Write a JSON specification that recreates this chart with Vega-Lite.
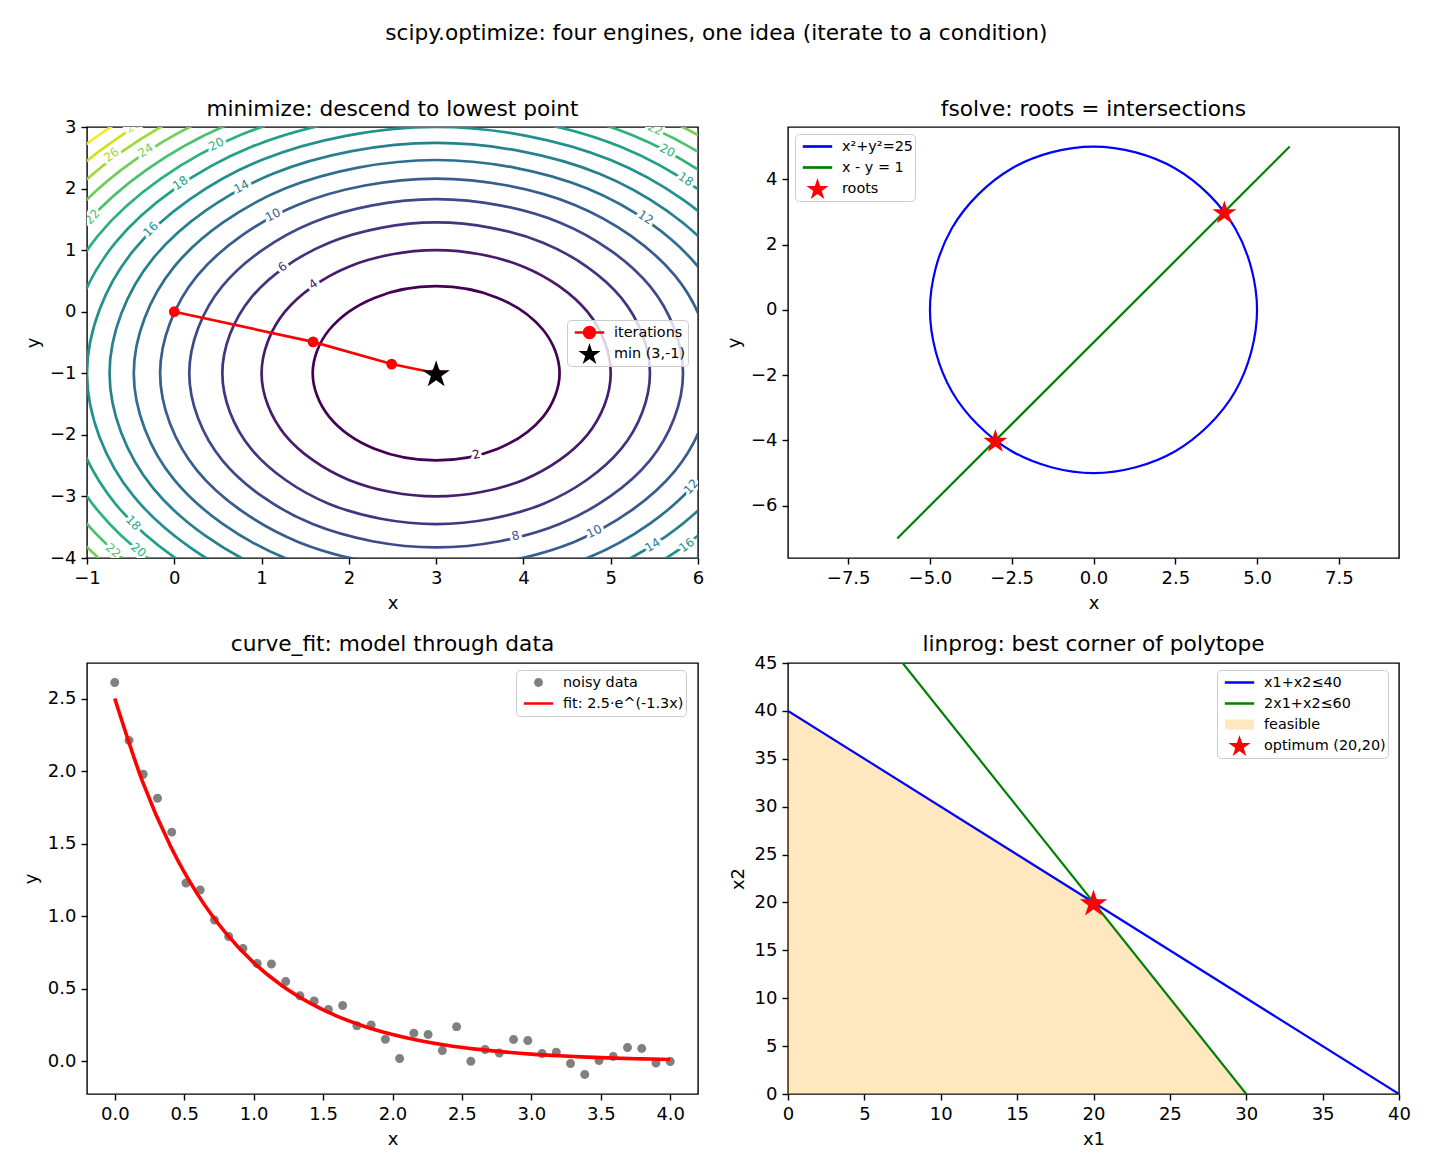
{
  "$schema": "https://vega.github.io/schema/vega-lite/v6.json",
  "title": {"text": "scipy.optimize: four engines, one idea (iterate to a condition)", "fontSize": 21.7, "offset": 53.5, "anchor": "middle", "frame": "bounds"},
  "padding": {"left": 21, "top": 23, "right": 10, "bottom": 10},
  "background": "white",
  "config": {
    "font": "DejaVu Sans",
    "view": {"stroke": "black", "strokeWidth": 1.4},
    "axis": {"domain": false, "grid": false, "tickColor": "black", "tickWidth": 1.4, "tickSize": 6, "labelFontSize": 18, "labelColor": "black", "labelPadding": 5, "titleFontSize": 18, "titleFontWeight": "normal", "titleColor": "black", "titlePadding": 7, "labelFlush": false, "labelOverlap": false, "labelBound": false},
    "title": {"fontSize": 21.7, "fontWeight": "normal", "color": "black", "frame": "group", "baseline": "alphabetic"},
    "legend": {"orient": "none", "labelFontSize": 14.4, "labelColor": "black", "symbolSize": 196, "symbolStrokeWidth": 2.7, "symbolOpacity": 1, "fillColor": "rgba(255,255,255,0.8)", "strokeColor": "#cccccc", "strokeWidth": 1, "cornerRadius": 4, "padding": 2, "clipHeight": 21, "rowPadding": 0, "labelOffset": 16, "symbolOffset": 12}
  },
  "datasets": {
    "contours": [
      {"lev":2,"k":0,"x":4.4142,"y":-1},{"lev":2,"k":1,"x":4.2247,"y":-0.2929},{"lev":2,"k":2,"x":3.7071,"y":0.2247},{"lev":2,"k":3,"x":3,"y":0.4142},{"lev":2,"k":4,"x":2.2929,"y":0.2247},{"lev":2,"k":5,"x":1.7753,"y":-0.2929},{"lev":2,"k":6,"x":1.5858,"y":-1},{"lev":2,"k":7,"x":1.7753,"y":-1.7071},{"lev":2,"k":8,"x":2.2929,"y":-2.2247},{"lev":2,"k":9,"x":3,"y":-2.4142},{"lev":2,"k":10,"x":3.7071,"y":-2.2247},{"lev":2,"k":11,"x":4.2247,"y":-1.7071},
      {"lev":4,"k":0,"x":5,"y":-1},{"lev":4,"k":1,"x":4.7321,"y":0},{"lev":4,"k":2,"x":4,"y":0.7321},{"lev":4,"k":3,"x":3,"y":1},{"lev":4,"k":4,"x":2,"y":0.7321},{"lev":4,"k":5,"x":1.2679,"y":0},{"lev":4,"k":6,"x":1,"y":-1},{"lev":4,"k":7,"x":1.2679,"y":-2},{"lev":4,"k":8,"x":2,"y":-2.7321},{"lev":4,"k":9,"x":3,"y":-3},{"lev":4,"k":10,"x":4,"y":-2.7321},{"lev":4,"k":11,"x":4.7321,"y":-2},
      {"lev":6,"k":0,"x":5.4495,"y":-1},{"lev":6,"k":1,"x":5.1213,"y":0.2247},{"lev":6,"k":2,"x":4.2247,"y":1.1213},{"lev":6,"k":3,"x":3,"y":1.4495},{"lev":6,"k":4,"x":1.7753,"y":1.1213},{"lev":6,"k":5,"x":0.8787,"y":0.2247},{"lev":6,"k":6,"x":0.5505,"y":-1},{"lev":6,"k":7,"x":0.8787,"y":-2.2247},{"lev":6,"k":8,"x":1.7753,"y":-3.1213},{"lev":6,"k":9,"x":3,"y":-3.4495},{"lev":6,"k":10,"x":4.2247,"y":-3.1213},{"lev":6,"k":11,"x":5.1213,"y":-2.2247},
      {"lev":8,"k":0,"x":5.8284,"y":-1},{"lev":8,"k":1,"x":5.4495,"y":0.4142},{"lev":8,"k":2,"x":4.4142,"y":1.4495},{"lev":8,"k":3,"x":3,"y":1.8284},{"lev":8,"k":4,"x":1.5858,"y":1.4495},{"lev":8,"k":5,"x":0.5505,"y":0.4142},{"lev":8,"k":6,"x":0.1716,"y":-1},{"lev":8,"k":7,"x":0.5505,"y":-2.4142},{"lev":8,"k":8,"x":1.5858,"y":-3.4495},{"lev":8,"k":9,"x":3,"y":-3.8284},{"lev":8,"k":10,"x":4.4142,"y":-3.4495},{"lev":8,"k":11,"x":5.4495,"y":-2.4142},
      {"lev":10,"k":0,"x":6.1623,"y":-1},{"lev":10,"k":1,"x":5.7386,"y":0.5811},{"lev":10,"k":2,"x":4.5811,"y":1.7386},{"lev":10,"k":3,"x":3,"y":2.1623},{"lev":10,"k":4,"x":1.4189,"y":1.7386},{"lev":10,"k":5,"x":0.2614,"y":0.5811},{"lev":10,"k":6,"x":-0.1623,"y":-1},{"lev":10,"k":7,"x":0.2614,"y":-2.5811},{"lev":10,"k":8,"x":1.4189,"y":-3.7386},{"lev":10,"k":9,"x":3,"y":-4.1623},{"lev":10,"k":10,"x":4.5811,"y":-3.7386},{"lev":10,"k":11,"x":5.7386,"y":-2.5811},
      {"lev":12,"k":0,"x":6.4641,"y":-1},{"lev":12,"k":1,"x":6,"y":0.7321},{"lev":12,"k":2,"x":4.7321,"y":2},{"lev":12,"k":3,"x":3,"y":2.4641},{"lev":12,"k":4,"x":1.2679,"y":2},{"lev":12,"k":5,"x":0,"y":0.7321},{"lev":12,"k":6,"x":-0.4641,"y":-1},{"lev":12,"k":7,"x":0,"y":-2.7321},{"lev":12,"k":8,"x":1.2679,"y":-4},{"lev":12,"k":9,"x":3,"y":-4.4641},{"lev":12,"k":10,"x":4.7321,"y":-4},{"lev":12,"k":11,"x":6,"y":-2.7321},
      {"lev":14,"k":0,"x":6.7417,"y":-1},{"lev":14,"k":1,"x":6.2404,"y":0.8708},{"lev":14,"k":2,"x":4.8708,"y":2.2404},{"lev":14,"k":3,"x":3,"y":2.7417},{"lev":14,"k":4,"x":1.1292,"y":2.2404},{"lev":14,"k":5,"x":-0.2404,"y":0.8708},{"lev":14,"k":6,"x":-0.7417,"y":-1},{"lev":14,"k":7,"x":-0.2404,"y":-2.8708},{"lev":14,"k":8,"x":1.1292,"y":-4.2404},{"lev":14,"k":9,"x":3,"y":-4.7417},{"lev":14,"k":10,"x":4.8708,"y":-4.2404},{"lev":14,"k":11,"x":6.2404,"y":-2.8708},
      {"lev":16,"k":0,"x":7,"y":-1},{"lev":16,"k":1,"x":6.4641,"y":1},{"lev":16,"k":2,"x":5,"y":2.4641},{"lev":16,"k":3,"x":3,"y":3},{"lev":16,"k":4,"x":1,"y":2.4641},{"lev":16,"k":5,"x":-0.4641,"y":1},{"lev":16,"k":6,"x":-1,"y":-1},{"lev":16,"k":7,"x":-0.4641,"y":-3},{"lev":16,"k":8,"x":1,"y":-4.4641},{"lev":16,"k":9,"x":3,"y":-5},{"lev":16,"k":10,"x":5,"y":-4.4641},{"lev":16,"k":11,"x":6.4641,"y":-3},
      {"lev":18,"k":0,"x":7.2426,"y":-1},{"lev":18,"k":1,"x":6.6742,"y":1.1213},{"lev":18,"k":2,"x":5.1213,"y":2.6742},{"lev":18,"k":3,"x":3,"y":3.2426},{"lev":18,"k":4,"x":0.8787,"y":2.6742},{"lev":18,"k":5,"x":-0.6742,"y":1.1213},{"lev":18,"k":6,"x":-1.2426,"y":-1},{"lev":18,"k":7,"x":-0.6742,"y":-3.1213},{"lev":18,"k":8,"x":0.8787,"y":-4.6742},{"lev":18,"k":9,"x":3,"y":-5.2426},{"lev":18,"k":10,"x":5.1213,"y":-4.6742},{"lev":18,"k":11,"x":6.6742,"y":-3.1213},
      {"lev":20,"k":0,"x":7.4721,"y":-1},{"lev":20,"k":1,"x":6.873,"y":1.2361},{"lev":20,"k":2,"x":5.2361,"y":2.873},{"lev":20,"k":3,"x":3,"y":3.4721},{"lev":20,"k":4,"x":0.7639,"y":2.873},{"lev":20,"k":5,"x":-0.873,"y":1.2361},{"lev":20,"k":6,"x":-1.4721,"y":-1},{"lev":20,"k":7,"x":-0.873,"y":-3.2361},{"lev":20,"k":8,"x":0.7639,"y":-4.873},{"lev":20,"k":9,"x":3,"y":-5.4721},{"lev":20,"k":10,"x":5.2361,"y":-4.873},{"lev":20,"k":11,"x":6.873,"y":-3.2361},
      {"lev":22,"k":0,"x":7.6904,"y":-1},{"lev":22,"k":1,"x":7.062,"y":1.3452},{"lev":22,"k":2,"x":5.3452,"y":3.062},{"lev":22,"k":3,"x":3,"y":3.6904},{"lev":22,"k":4,"x":0.6548,"y":3.062},{"lev":22,"k":5,"x":-1.062,"y":1.3452},{"lev":22,"k":6,"x":-1.6904,"y":-1},{"lev":22,"k":7,"x":-1.062,"y":-3.3452},{"lev":22,"k":8,"x":0.6548,"y":-5.062},{"lev":22,"k":9,"x":3,"y":-5.6904},{"lev":22,"k":10,"x":5.3452,"y":-5.062},{"lev":22,"k":11,"x":7.062,"y":-3.3452},
      {"lev":24,"k":0,"x":7.899,"y":-1},{"lev":24,"k":1,"x":7.2426,"y":1.4495},{"lev":24,"k":2,"x":5.4495,"y":3.2426},{"lev":24,"k":3,"x":3,"y":3.899},{"lev":24,"k":4,"x":0.5505,"y":3.2426},{"lev":24,"k":5,"x":-1.2426,"y":1.4495},{"lev":24,"k":6,"x":-1.899,"y":-1},{"lev":24,"k":7,"x":-1.2426,"y":-3.4495},{"lev":24,"k":8,"x":0.5505,"y":-5.2426},{"lev":24,"k":9,"x":3,"y":-5.899},{"lev":24,"k":10,"x":5.4495,"y":-5.2426},{"lev":24,"k":11,"x":7.2426,"y":-3.4495},
      {"lev":26,"k":0,"x":8.099,"y":-1},{"lev":26,"k":1,"x":7.4159,"y":1.5495},{"lev":26,"k":2,"x":5.5495,"y":3.4159},{"lev":26,"k":3,"x":3,"y":4.099},{"lev":26,"k":4,"x":0.4505,"y":3.4159},{"lev":26,"k":5,"x":-1.4159,"y":1.5495},{"lev":26,"k":6,"x":-2.099,"y":-1},{"lev":26,"k":7,"x":-1.4159,"y":-3.5495},{"lev":26,"k":8,"x":0.4505,"y":-5.4159},{"lev":26,"k":9,"x":3,"y":-6.099},{"lev":26,"k":10,"x":5.5495,"y":-5.4159},{"lev":26,"k":11,"x":7.4159,"y":-3.5495},
      {"lev":28,"k":0,"x":8.2915,"y":-1},{"lev":28,"k":1,"x":7.5826,"y":1.6458},{"lev":28,"k":2,"x":5.6458,"y":3.5826},{"lev":28,"k":3,"x":3,"y":4.2915},{"lev":28,"k":4,"x":0.3542,"y":3.5826},{"lev":28,"k":5,"x":-1.5826,"y":1.6458},{"lev":28,"k":6,"x":-2.2915,"y":-1},{"lev":28,"k":7,"x":-1.5826,"y":-3.6458},{"lev":28,"k":8,"x":0.3542,"y":-5.5826},{"lev":28,"k":9,"x":3,"y":-6.2915},{"lev":28,"k":10,"x":5.6458,"y":-5.5826},{"lev":28,"k":11,"x":7.5826,"y":-3.6458},
      {"lev":30,"k":0,"x":8.4772,"y":-1},{"lev":30,"k":1,"x":7.7434,"y":1.7386},{"lev":30,"k":2,"x":5.7386,"y":3.7434},{"lev":30,"k":3,"x":3,"y":4.4772},{"lev":30,"k":4,"x":0.2614,"y":3.7434},{"lev":30,"k":5,"x":-1.7434,"y":1.7386},{"lev":30,"k":6,"x":-2.4772,"y":-1},{"lev":30,"k":7,"x":-1.7434,"y":-3.7434},{"lev":30,"k":8,"x":0.2614,"y":-5.7434},{"lev":30,"k":9,"x":3,"y":-6.4772},{"lev":30,"k":10,"x":5.7386,"y":-5.7434},{"lev":30,"k":11,"x":7.7434,"y":-3.7434}
    ],
    "clabels": [
      {"lev":2,"x":3.46,"y":-2.32},{"lev":4,"x":1.59,"y":0.45},{"lev":6,"x":1.24,"y":0.73},{"lev":8,"x":3.91,"y":-3.64},
      {"lev":10,"x":1.13,"y":1.57},{"lev":10,"x":4.81,"y":-3.57},{"lev":12,"x":5.4,"y":1.53},{"lev":12,"x":5.92,"y":-2.84},
      {"lev":14,"x":0.77,"y":2.03},{"lev":14,"x":5.48,"y":-3.79},{"lev":16,"x":-0.27,"y":1.34},{"lev":16,"x":5.87,"y":-3.79},
      {"lev":18,"x":0.07,"y":2.09},{"lev":18,"x":5.86,"y":2.15},{"lev":18,"x":-0.47,"y":-3.43},
      {"lev":20,"x":0.48,"y":2.72},{"lev":20,"x":5.65,"y":2.62},{"lev":20,"x":-0.41,"y":-3.87},
      {"lev":22,"x":-0.94,"y":1.54},{"lev":22,"x":-0.7,"y":-3.88},{"lev":22,"x":5.51,"y":2.97},
      {"lev":24,"x":-0.33,"y":2.62},{"lev":26,"x":-0.72,"y":2.55},{"lev":28,"x":-0.47,"y":3.02}
    ],
    "iters": [{"step":0,"x":0,"y":0},{"step":1,"x":1.59,"y":-0.49},{"step":2,"x":2.49,"y":-0.85},{"step":3,"x":3,"y":-1}],
    "minpt": [{"x":3,"y":-1,"series":"min (3,-1)"}],
    "circle": [
      {"k":0,"x":5,"y":0},{"k":1,"x":4.3301,"y":2.5},{"k":2,"x":2.5,"y":4.3301},{"k":3,"x":0,"y":5},{"k":4,"x":-2.5,"y":4.3301},{"k":5,"x":-4.3301,"y":2.5},
      {"k":6,"x":-5,"y":0},{"k":7,"x":-4.3301,"y":-2.5},{"k":8,"x":-2.5,"y":-4.3301},{"k":9,"x":0,"y":-5},{"k":10,"x":2.5,"y":-4.3301},{"k":11,"x":4.3301,"y":-2.5}
    ],
    "diag": [{"x":-6,"y":-7},{"x":6,"y":5}],
    "roots": [{"x":4,"y":3,"series":"roots"},{"x":-3,"y":-4,"series":"roots"}],
    "noisy": [
      {"x":0,"y":2.61,"series":"noisy data"},{"x":0.1026,"y":2.212,"series":"noisy data"},{"x":0.2051,"y":1.978,"series":"noisy data"},{"x":0.3077,"y":1.813,"series":"noisy data"},
      {"x":0.4103,"y":1.58,"series":"noisy data"},{"x":0.5128,"y":1.229,"series":"noisy data"},{"x":0.6154,"y":1.181,"series":"noisy data"},{"x":0.7179,"y":0.975,"series":"noisy data"},
      {"x":0.8205,"y":0.861,"series":"noisy data"},{"x":0.9231,"y":0.778,"series":"noisy data"},{"x":1.0256,"y":0.675,"series":"noisy data"},{"x":1.1282,"y":0.672,"series":"noisy data"},
      {"x":1.2308,"y":0.551,"series":"noisy data"},{"x":1.3333,"y":0.453,"series":"noisy data"},{"x":1.4359,"y":0.416,"series":"noisy data"},{"x":1.5385,"y":0.359,"series":"noisy data"},
      {"x":1.641,"y":0.385,"series":"noisy data"},{"x":1.7436,"y":0.247,"series":"noisy data"},{"x":1.8462,"y":0.251,"series":"noisy data"},{"x":1.9487,"y":0.153,"series":"noisy data"},
      {"x":2.0513,"y":0.021,"series":"noisy data"},{"x":2.1538,"y":0.194,"series":"noisy data"},{"x":2.2564,"y":0.186,"series":"noisy data"},{"x":2.359,"y":0.076,"series":"noisy data"},
      {"x":2.4615,"y":0.24,"series":"noisy data"},{"x":2.5641,"y":0.001,"series":"noisy data"},{"x":2.6667,"y":0.082,"series":"noisy data"},{"x":2.7692,"y":0.059,"series":"noisy data"},
      {"x":2.8718,"y":0.151,"series":"noisy data"},{"x":2.9744,"y":0.144,"series":"noisy data"},{"x":3.0769,"y":0.055,"series":"noisy data"},{"x":3.1795,"y":0.064,"series":"noisy data"},
      {"x":3.2821,"y":-0.014,"series":"noisy data"},{"x":3.3846,"y":-0.089,"series":"noisy data"},{"x":3.4872,"y":0.007,"series":"noisy data"},{"x":3.5897,"y":0.034,"series":"noisy data"},
      {"x":3.6923,"y":0.096,"series":"noisy data"},{"x":3.7949,"y":0.089,"series":"noisy data"},{"x":3.8974,"y":-0.01,"series":"noisy data"},{"x":4,"y":0,"series":"noisy data"}
    ],
    "fit": [
      {"x":0,"y":2.5},{"x":0.2,"y":1.928},{"x":0.4,"y":1.486},{"x":0.6,"y":1.146},{"x":0.8,"y":0.884},{"x":1,"y":0.681},{"x":1.2,"y":0.525},
      {"x":1.4,"y":0.405},{"x":1.6,"y":0.312},{"x":1.8,"y":0.241},{"x":2,"y":0.186},{"x":2.2,"y":0.143},{"x":2.4,"y":0.11},{"x":2.6,"y":0.085},
      {"x":2.8,"y":0.066},{"x":3,"y":0.0506},{"x":3.2,"y":0.039},{"x":3.4,"y":0.03},{"x":3.6,"y":0.023},{"x":3.8,"y":0.018},{"x":4,"y":0.0138}
    ],
    "feasible": [{"x":0,"y":40},{"x":20,"y":20},{"x":30,"y":0}],
    "c1": [{"x":0,"y":40},{"x":40,"y":0}],
    "c2": [{"x":0,"y":60},{"x":40,"y":-20}],
    "opt": [{"x":20,"y":20,"series":"optimum (20,20)"}]
  },
  "columns": 2,
  "spacing": {"column": 90, "row": 105},
  "bounds": "flush",
  "resolve": {
    "scale": {"x": "independent", "y": "independent", "color": "independent", "fill": "independent", "stroke": "independent", "shape": "independent"},
    "legend": {"color": "independent", "fill": "independent", "stroke": "independent", "shape": "independent"}
  },
  "concat": [
    {
      "width": 611, "height": 431,
      "title": {"text": "minimize: descend to lowest point", "offset": -3},
      "encoding": {
        "x": {"field": "x", "type": "quantitative", "scale": {"domain": [-1, 6], "nice": false, "zero": false}, "axis": {"title": "x", "values": [-1,0,1,2,3,4,5,6], "format": "d"}},
        "y": {"field": "y", "type": "quantitative", "scale": {"domain": [-4, 3], "nice": false, "zero": false}, "axis": {"title": "y", "values": [-4,-3,-2,-1,0,1,2,3], "format": "d"}}
      },
      "layer": [
        {
          "data": {"name": "contours"},
          "mark": {"type": "line", "interpolate": "cardinal-closed", "strokeWidth": 2.7, "clip": true},
          "encoding": {
            "color": {"field": "lev", "type": "quantitative", "scale": {"scheme": "viridis", "domain": [2, 30]}, "legend": null},
            "detail": {"field": "lev", "type": "nominal"},
            "order": {"field": "k", "type": "quantitative"}
          }
        },
        {
          "data": {"name": "clabels"},
          "transform": [
            {"calculate": "atan2((datum.x - 3) / 87.29, (datum.y + 1) / 61.57) * 180 / PI", "as": "a0"},
            {"calculate": "datum.a0 > 90 ? datum.a0 - 180 : (datum.a0 < -90 ? datum.a0 + 180 : datum.a0)", "as": "rot"}
          ],
          "mark": {"type": "text", "fontSize": 12, "fill": "white", "stroke": "white", "strokeWidth": 6, "strokeJoin": "round", "align": "center", "baseline": "middle", "clip": true},
          "encoding": {
            "text": {"field": "lev", "type": "quantitative"},
            "angle": {"field": "rot", "type": "quantitative", "scale": null}
          }
        },
        {
          "data": {"name": "clabels"},
          "transform": [
            {"calculate": "atan2((datum.x - 3) / 87.29, (datum.y + 1) / 61.57) * 180 / PI", "as": "a0"},
            {"calculate": "datum.a0 > 90 ? datum.a0 - 180 : (datum.a0 < -90 ? datum.a0 + 180 : datum.a0)", "as": "rot"}
          ],
          "mark": {"type": "text", "fontSize": 12, "align": "center", "baseline": "middle", "clip": true},
          "encoding": {
            "text": {"field": "lev", "type": "quantitative"},
            "angle": {"field": "rot", "type": "quantitative", "scale": null},
            "color": {"field": "lev", "type": "quantitative"}
          }
        },
        {
          "data": {"name": "iters"},
          "mark": {"type": "line", "color": "red", "strokeWidth": 2.7},
          "encoding": {"order": {"field": "step", "type": "quantitative"}}
        },
        {
          "data": {"name": "iters"},
          "mark": {"type": "point", "filled": true, "shape": "circle", "size": 117, "color": "red", "opacity": 1}
        },
        {
          "data": {"name": "minpt"},
          "mark": {"type": "point", "filled": true, "opacity": 1, "size": 302, "strokeWidth": 2.7},
          "encoding": {
            "fill": {"field": "series", "type": "nominal", "scale": {"domain": ["iterations", "min (3,-1)"], "range": ["red", "black"]}, "legend": {"title": null, "legendX": 480, "legendY": 193}},
            "stroke": {"field": "series", "type": "nominal", "scale": {"domain": ["iterations", "min (3,-1)"], "range": ["red", "transparent"]}, "legend": {"title": null, "legendX": 480, "legendY": 193}},
            "shape": {"field": "series", "type": "nominal", "scale": {"domain": ["iterations", "min (3,-1)"], "range": ["M-2.1,0L2.1,0M0.77,0A0.77,0.77,0,1,1,-0.77,0A0.77,0.77,0,1,1,0.77,0Z", "M0,-1.5015L0.3728,-0.3545L1.5787,-0.3545L0.603,0.3544L0.9761,1.5015L0,0.7926L-0.9761,1.5015L-0.603,0.3544L-1.5787,-0.3545L-0.3728,-0.3545Z"]}, "legend": {"title": null, "legendX": 480, "legendY": 193}}
          }
        }
      ]
    },
    {
      "width": 611, "height": 431,
      "title": {"text": "fsolve: roots = intersections", "offset": 6},
      "encoding": {
        "x": {"field": "x", "type": "quantitative", "scale": {"domain": [-9.34, 9.34], "nice": false, "zero": false}, "axis": {"title": "x", "values": [-7.5,-5,-2.5,0,2.5,5,7.5], "format": ".1f"}},
        "y": {"field": "y", "type": "quantitative", "scale": {"domain": [-7.6, 5.6], "nice": false, "zero": false}, "axis": {"title": "y", "values": [-6,-4,-2,0,2,4], "format": "d"}}
      },
      "layer": [
        {
          "data": {"name": "circle"},
          "mark": {"type": "line", "interpolate": "cardinal-closed", "color": "blue", "strokeWidth": 2.2},
          "encoding": {"order": {"field": "k", "type": "quantitative"}}
        },
        {
          "data": {"name": "diag"},
          "mark": {"type": "line", "color": "green", "strokeWidth": 2.2},
          "encoding": {}
        },
        {
          "data": {"name": "roots"},
          "mark": {"type": "point", "filled": true, "opacity": 1, "size": 231, "strokeWidth": 2.7},
          "encoding": {
            "fill": {"field": "series", "type": "nominal", "scale": {"domain": ["x²+y²=25", "x - y = 1", "roots"], "range": ["transparent", "transparent", "red"]}, "legend": {"title": null, "legendX": 7, "legendY": 7}},
            "stroke": {"field": "series", "type": "nominal", "scale": {"domain": ["x²+y²=25", "x - y = 1", "roots"], "range": ["blue", "green", "transparent"]}, "legend": {"title": null, "legendX": 7, "legendY": 7}},
            "shape": {"field": "series", "type": "nominal", "scale": {"domain": ["x²+y²=25", "x - y = 1", "roots"], "range": ["M-2.1,0L2.1,0", "M-2.1,0L2.1,0", "M0,-1.5015L0.3728,-0.3545L1.5787,-0.3545L0.603,0.3544L0.9761,1.5015L0,0.7926L-0.9761,1.5015L-0.603,0.3544L-1.5787,-0.3545L-0.3728,-0.3545Z"]}, "legend": {"title": null, "legendX": 7, "legendY": 7}}
          }
        }
      ]
    },
    {
      "width": 611, "height": 431,
      "title": {"text": "curve_fit: model through data", "offset": 7},
      "encoding": {
        "x": {"field": "x", "type": "quantitative", "scale": {"domain": [-0.2, 4.2], "nice": false, "zero": false}, "axis": {"title": "x", "values": [0,0.5,1,1.5,2,2.5,3,3.5,4], "format": ".1f"}},
        "y": {"field": "y", "type": "quantitative", "scale": {"domain": [-0.224, 2.745], "nice": false, "zero": false}, "axis": {"title": "y", "values": [0,0.5,1,1.5,2,2.5], "format": ".1f"}}
      },
      "layer": [
        {
          "data": {"name": "noisy"},
          "mark": {"type": "point", "filled": true, "opacity": 1, "size": 196, "strokeWidth": 3.6},
          "encoding": {
            "fill": {"field": "series", "type": "nominal", "scale": {"domain": ["noisy data", "fit: 2.5·e^(-1.3x)"], "range": ["gray", "transparent"]}, "legend": {"title": null, "legendX": 429, "legendY": 7}},
            "stroke": {"field": "series", "type": "nominal", "scale": {"domain": ["noisy data", "fit: 2.5·e^(-1.3x)"], "range": ["transparent", "red"]}, "legend": {"title": null, "legendX": 429, "legendY": 7}},
            "shape": {"field": "series", "type": "nominal", "scale": {"domain": ["noisy data", "fit: 2.5·e^(-1.3x)"], "range": ["M0.64,0A0.64,0.64,0,1,1,-0.64,0A0.64,0.64,0,1,1,0.64,0Z", "M-2.1,0L2.1,0"]}, "legend": {"title": null, "legendX": 429, "legendY": 7}}
          }
        },
        {
          "data": {"name": "fit"},
          "mark": {"type": "line", "color": "red", "strokeWidth": 3.6, "interpolate": "monotone"},
          "encoding": {}
        }
      ]
    },
    {
      "width": 611, "height": 431,
      "title": {"text": "linprog: best corner of polytope", "offset": -2},
      "encoding": {
        "x": {"field": "x", "type": "quantitative", "scale": {"domain": [0, 40], "nice": false, "zero": false}, "axis": {"title": "x1", "values": [0,5,10,15,20,25,30,35,40], "format": "d"}},
        "y": {"field": "y", "type": "quantitative", "scale": {"domain": [0, 45], "nice": false, "zero": false}, "axis": {"title": "x2", "values": [0,5,10,15,20,25,30,35,40,45], "format": "d"}}
      },
      "layer": [
        {
          "data": {"name": "feasible"},
          "mark": {"type": "area", "color": "#ffa500", "opacity": 0.25},
          "encoding": {"y2": {"datum": 0}}
        },
        {
          "data": {"name": "c1"},
          "mark": {"type": "line", "color": "blue", "strokeWidth": 2.2, "clip": true},
          "encoding": {}
        },
        {
          "data": {"name": "c2"},
          "mark": {"type": "line", "color": "green", "strokeWidth": 2.2, "clip": true},
          "encoding": {}
        },
        {
          "data": {"name": "opt"},
          "mark": {"type": "point", "filled": true, "opacity": 1, "size": 302, "strokeWidth": 2.7},
          "encoding": {
            "fill": {"field": "series", "type": "nominal", "scale": {"domain": ["x1+x2≤40", "2x1+x2≤60", "feasible", "optimum (20,20)"], "range": ["transparent", "transparent", "#ffe8bf", "red"]}, "legend": {"title": null, "legendX": 429, "legendY": 7}},
            "stroke": {"field": "series", "type": "nominal", "scale": {"domain": ["x1+x2≤40", "2x1+x2≤60", "feasible", "optimum (20,20)"], "range": ["blue", "green", "transparent", "transparent"]}, "legend": {"title": null, "legendX": 429, "legendY": 7}},
            "shape": {"field": "series", "type": "nominal", "scale": {"domain": ["x1+x2≤40", "2x1+x2≤60", "feasible", "optimum (20,20)"], "range": ["M-2.1,0L2.1,0", "M-2.1,0L2.1,0", "M-2.06,-0.71L2.06,-0.71L2.06,0.71L-2.06,0.71Z", "M0,-1.5015L0.3728,-0.3545L1.5787,-0.3545L0.603,0.3544L0.9761,1.5015L0,0.7926L-0.9761,1.5015L-0.603,0.3544L-1.5787,-0.3545L-0.3728,-0.3545Z"]}, "legend": {"title": null, "legendX": 429, "legendY": 7}}
          }
        }
      ]
    }
  ]
}
